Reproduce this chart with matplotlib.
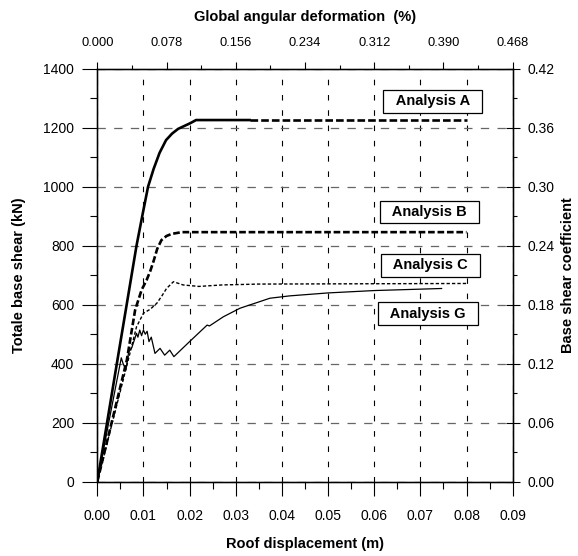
import numpy as np
import matplotlib
matplotlib.use("Agg")
import matplotlib.pyplot as plt
from matplotlib.ticker import MultipleLocator, FormatStrFormatter

plt.rcParams['font.family'] = ['Liberation Sans', 'DejaVu Sans']
plt.rcParams['lines.scale_dashes'] = False

# Analysis A: solid up to the plateau, then dashed
disp_A = [0.0, 0.0045, 0.0085, 0.0098, 0.011, 0.0122, 0.0135, 0.0149, 0.0162, 0.0175, 0.0190, 0.0201, 0.0214, 0.033]
shear_A = [0, 425, 800, 905, 1000, 1060, 1115, 1158, 1180, 1196, 1207, 1215, 1226, 1226]
disp_A_ext = [0.033, 0.080]
shear_A_ext = [1226, 1226]

# Analysis B
disp_B = [0.0, 0.0064, 0.0082, 0.0096, 0.0107, 0.0115, 0.0122, 0.0130, 0.0139, 0.0150, 0.0161, 0.0183, 0.080]
shear_B = [0, 412, 582, 650, 684, 715, 748, 790, 819, 833, 840, 846, 846]

# Analysis C
disp_C = [0.0, 0.0067, 0.0085, 0.0100, 0.0115, 0.0129, 0.0140, 0.0150, 0.0165, 0.0186, 0.0220, 0.0270, 0.0350, 0.080]
shear_C = [0, 412, 525, 571, 585, 605, 630, 655, 678, 667, 662, 667, 670, 672]

# Analysis G
disp_G = [0.0, 0.0052, 0.0056, 0.0062, 0.0068, 0.0075, 0.0085, 0.0088, 0.0092, 0.0096, 0.0100,
          0.0104, 0.0108, 0.0112, 0.0117, 0.0125, 0.0136, 0.0146, 0.0157, 0.0166, 0.0200,
          0.0238, 0.0243, 0.0273, 0.0309, 0.0374, 0.0417, 0.0500, 0.0600, 0.0746]
shear_G = [0, 420, 400, 379, 440, 455, 503, 490, 514, 495, 514,
           500, 510, 475, 490, 435, 452, 429, 446, 424, 475,
           531, 528, 559, 588, 622, 630, 640, 648, 655]

labels = ['Analysis A', 'Analysis B', 'Analysis C', 'Analysis G']
label_x = [0.0727, 0.0720, 0.0722, 0.0716]
label_y = [1289, 914, 734, 569]

fig = plt.figure(figsize=(5.78, 5.56), dpi=100)
ax = fig.add_axes([0.1683, 0.1336, 0.7187, 0.7428])

ax.plot(disp_A, shear_A, color='k', lw=1.9, solid_joinstyle='round', zorder=3)
ax.plot(disp_A_ext, shear_A_ext, color='k', lw=1.9, ls=(0, (5.5, 2.2)), zorder=3)
ax.plot(disp_B, shear_B, color='k', lw=1.9, ls=(0, (4.8, 2.0)), zorder=3)
ax.plot(disp_C, shear_C, color='k', lw=1.0, ls=(0, (2.4, 1.5)), zorder=3)
ax.plot(disp_G, shear_G, color='k', lw=0.9, zorder=3)

ax.set_xlim(0, 0.09)
ax.set_ylim(0, 1400)
ax.xaxis.set_major_locator(MultipleLocator(0.01))
ax.xaxis.set_minor_locator(MultipleLocator(0.005))
ax.yaxis.set_major_locator(MultipleLocator(200))
ax.yaxis.set_minor_locator(MultipleLocator(100))
ax.xaxis.set_major_formatter(FormatStrFormatter('%.2f'))

ax.xaxis.grid(True, color='k', lw=0.8, ls=(0, (4, 7)))
ax.yaxis.grid(True, color='0.4', lw=0.9, ls=(0, (6, 6)))
ax.set_axisbelow(True)

ax.tick_params(axis='x', which='major', direction='out', length=10, width=0.8, labelsize=10, pad=9.5)
ax.tick_params(axis='x', which='minor', direction='out', length=5, width=0.8)
ax.tick_params(axis='y', which='major', direction='out', length=10.5, width=0.8, labelsize=10, pad=6)
ax.tick_params(axis='y', which='minor', direction='out', length=5, width=0.8)
for s in ax.spines.values():
    s.set_linewidth(1.0)

ax.set_xlabel('Roof displacement (m)', fontsize=10.5, fontweight='bold', va='center')
ax.xaxis.set_label_coords(0.5, -0.151)
ax.set_ylabel('Totale base shear (kN)', fontsize=10.5, fontweight='bold', va='center')
ax.yaxis.set_label_coords(-0.1885, 0.5)

for txt, x, y in zip(labels, label_x, label_y):
    ax.text(x, y, '  ' + txt + '  ', ha='center', va='center', fontsize=10.5, fontweight='bold',
            bbox=dict(boxstyle='square,pad=0.3', fc='white', ec='k', lw=0.9), zorder=4)

# right axis: base shear coefficient
ax2 = ax.twinx()
ax2.set_ylim(0, 0.42)
ax2.yaxis.set_major_locator(MultipleLocator(0.06))
ax2.yaxis.set_minor_locator(MultipleLocator(0.03))
ax2.yaxis.set_major_formatter(FormatStrFormatter('%.2f'))
ax2.tick_params(axis='y', which='major', direction='inout', length=9.5, width=0.8, labelsize=10, pad=6)
ax2.tick_params(axis='y', which='minor', direction='out', length=3, width=0.8)
ax2.set_ylabel('Base shear coefficient', fontsize=10.5, fontweight='bold', rotation=90, va='center')
ax2.yaxis.set_label_coords(1.133, 0.5)

# top axis: global angular deformation
ax3 = ax.twiny()
ax3.set_xlim(0, 0.468)
ax3.xaxis.set_major_locator(MultipleLocator(0.078))
ax3.xaxis.set_minor_locator(MultipleLocator(0.039))
ax3.xaxis.set_major_formatter(FormatStrFormatter('%.3f'))
ax3.tick_params(axis='x', which='major', direction='out', length=5, width=0.8, labelsize=9.3, pad=9)
ax3.tick_params(axis='x', which='minor', direction='out', length=3, width=0.8)
ax3.set_xlabel('Global angular deformation  (%)', fontsize=10.5, fontweight='bold', va='center')
ax3.xaxis.set_label_coords(0.5, 1.125)

fig.savefig('out.png', dpi=100)
